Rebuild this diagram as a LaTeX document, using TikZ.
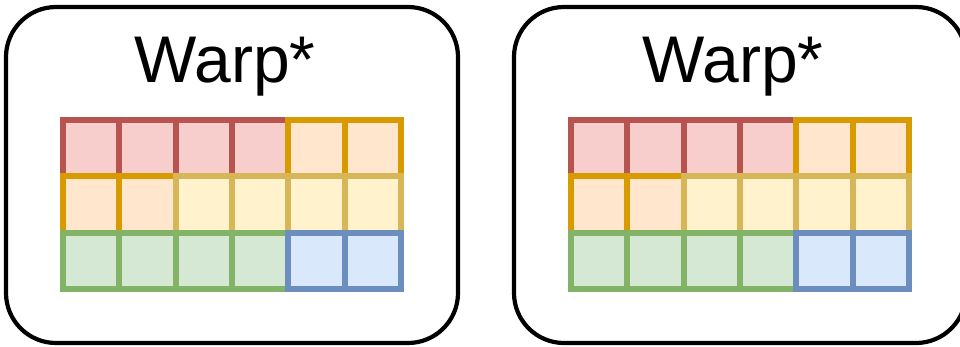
\documentclass[tikz,border=0pt]{standalone}
\usepackage{fontspec}
\setmainfont{Liberation Sans}
\usepackage{tikz}
\usepackage{xcolor}
\definecolor{redFill}{RGB}{248,206,204}
\definecolor{redLine}{RGB}{184,84,80}
\definecolor{orangeFill}{RGB}{255,230,204}
\definecolor{orangeLine}{RGB}{215,155,0}
\definecolor{yellowFill}{RGB}{255,242,204}
\definecolor{yellowLine}{RGB}{214,182,86}
\definecolor{greenFill}{RGB}{213,232,212}
\definecolor{greenLine}{RGB}{130,179,102}
\definecolor{blueFill}{RGB}{218,232,252}
\definecolor{blueLine}{RGB}{108,142,191}
\tikzset{
  warpbox/.style={draw=black,line width=4.2pt,rounded corners=50pt,minimum width=452pt,minimum height=336pt,inner sep=0pt},
  warptitle/.style={anchor=base,inner sep=0pt,font=\fontsize{66}{72}\selectfont},
  cell/.style={draw=#1Line,fill=#1Fill,line width=6pt,minimum size=56.4pt,inner sep=0pt}
}

\begin{document}
\begin{tikzpicture}[x=1pt,y=-1pt]
\useasboundingbox (0,0) rectangle (960,346);
\foreach \side/\cx in {L/232,R/740} {
  \node[warpbox] (box\side) at (\cx,175) {};
  \node[warptitle] (title\side) at ([xshift=-7pt,yshift=-78pt]box\side.north) {Warp*};
  % three rows of six cells, drawn left to right so later borders sit on top
  \foreach \row [count=\j] in {{red,red,red,red,orange,orange},{orange,orange,yellow,yellow,yellow,yellow},{green,green,green,green,blue,blue}} {
    \foreach \col [count=\i] in \row {
      \node[cell=\col] (cell\side\j\i) at ({\cx-169.2+56.4*(\i-0.5)},{119.7+56.4*(\j-0.5)}) {};
    }
  }
}
\end{tikzpicture}
\end{document}
